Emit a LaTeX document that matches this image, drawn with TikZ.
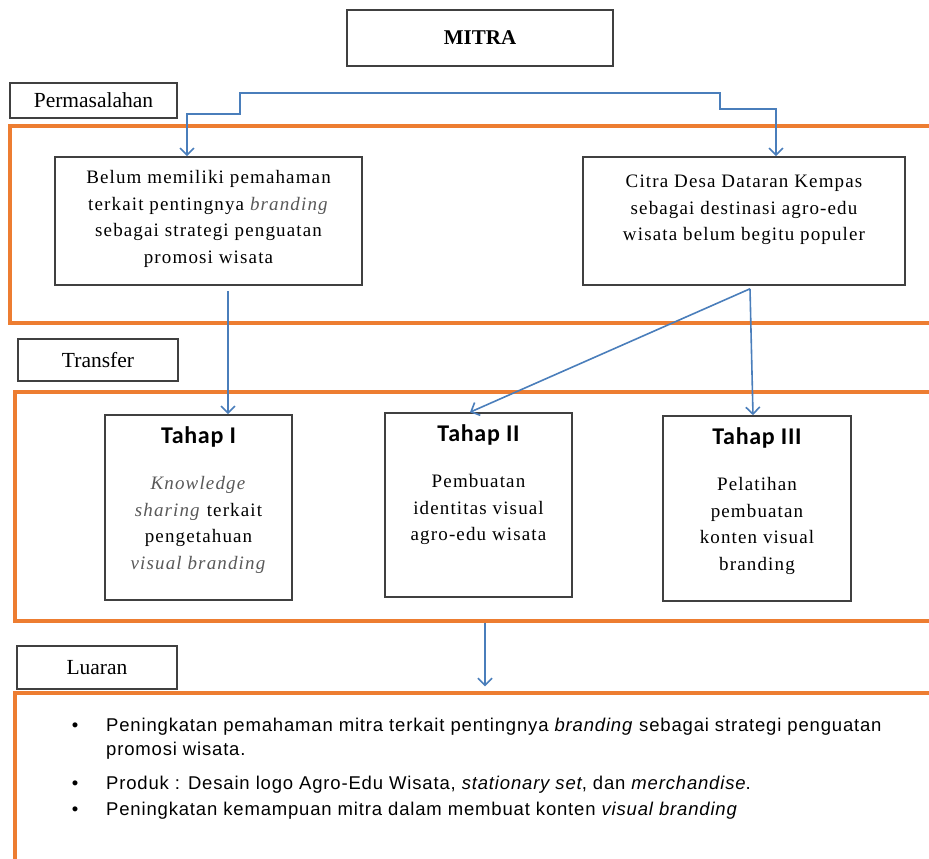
\documentclass[tikz,border=0pt]{standalone}
\usepackage{fontspec}
\setmainfont{Liberation Serif}
\newfontfamily\boxfont[LetterSpace=6]{Liberation Serif}
\newfontfamily\labelfont{Liberation Serif}
\newfontfamily\stagefont[LetterSpace=3]{Carlito}
\newfontfamily\listfont[LetterSpace=4.5]{Liberation Sans}
\usepackage{tikz}
\usetikzlibrary{arrows.meta,positioning}

\definecolor{frameorange}{HTML}{ED7D31}
\definecolor{flowblue}{HTML}{4A7EBB}
\definecolor{boxgray}{HTML}{404040}
\definecolor{itgray}{HTML}{595959}

\newcommand{\itg}[1]{\textcolor{itgray}{\textit{#1}}}

\begin{document}
\begin{tikzpicture}[x=1pt,y=-1pt,
    frame/.style={draw=frameorange,line width=3.4pt,inner sep=0},
    box/.style={draw=boxgray,line width=1.6pt,fill=white,inner sep=0},
    tag/.style={box,font=\labelfont\fontsize{21.5}{24}\selectfont},
    boxtext/.style={font=\boxfont\fontsize{19}{26.5}\selectfont,align=center,inner sep=0},
    heading/.style={font=\stagefont\bfseries\fontsize{24}{28}\selectfont,inner sep=0},
    outitem/.style={font=\listfont\fontsize{18.5}{23}\selectfont,anchor=base west,inner sep=0},
    flow/.style={draw=flowblue,line width=1.6pt,-{Straight Barb[length=7pt,width=14pt]}}]

  \useasboundingbox (0,0) rectangle (929,859);

  % frames
  \node[frame,minimum width=930pt,minimum height=197pt] (f1) at (475,224.5) {};
  \node[frame,minimum width=925pt,minimum height=229pt] (f2) at (477.5,506.5) {};
  \node[frame,minimum width=925pt,minimum height=182pt] (f3) at (477.5,784) {};

  % top and labels
  \node[box,minimum width=266pt,minimum height=56pt,font=\bfseries\fontsize{21}{24}\selectfont] (mitra) at (480,38) {MITRA};
  \node[tag,minimum width=167pt,minimum height=35pt] (perm) at (93.5,100.5) {Permasalahan};
  \node[tag,minimum width=160pt,minimum height=42pt] (trans) at (98,360) {Transfer};
  \node[tag,minimum width=160pt,minimum height=43pt] (luar) at (97,667.5) {Luaran};

  % problems
  \node[box,minimum width=307pt,minimum height=128pt] (p1) at (208.5,221) {};
  \node[boxtext,below=14pt of p1.north] (p1txt) {Belum memiliki pemahaman\\terkait pentingnya \itg{branding}\\sebagai strategi penguatan\\promosi wisata};
  \node[box,minimum width=322pt,minimum height=128pt] (p2) at (744,221) {};
  \node[boxtext,below=19pt of p2.north] (p2txt) {Citra Desa Dataran Kempas\\sebagai destinasi agro-edu\\wisata belum begitu populer};

  % stages
  \node[box,minimum width=187pt,minimum height=185pt] (t1) at (198.5,507.5) {};
  \node[heading,below=12pt of t1.north] (h1) {Tahap I};
  \node[boxtext,below=29pt of h1.south] (b1) {\itg{Knowledge}\\\itg{sharing} terkait\\pengetahuan\\\itg{visual branding}};
  \node[box,minimum width=187pt,minimum height=184pt] (t2) at (478.5,505) {};
  \node[heading,below=12pt of t2.north] (h2) {Tahap II};
  \node[boxtext,below=29pt of h2.south] (b2) {Pembuatan\\identitas visual\\agro-edu wisata};
  \node[box,minimum width=188pt,minimum height=185pt] (t3) at (757,508.5) {};
  \node[heading,below=12pt of t3.north] (h3) {Tahap III};
  \node[boxtext,below=29pt of h3.south] (b3) {Pelatihan\\pembuatan\\konten visual\\branding};

  % outputs
  \foreach \y in {731,789,815}
    \node[outitem,anchor=base] at (75,\y) {\textbullet};
  \node[outitem] (o1) at (106,731) {Peningkatan pemahaman mitra terkait pentingnya \textit{branding} sebagai strategi penguatan};
  \node[outitem] (o1b) at (106,755) {promosi wisata.};
  \node[outitem] (o2) at (106,789) {Produk : Desain logo Agro-Edu Wisata, \textit{stationary set}, dan \textit{merchandise}.};
  \node[outitem] (o3) at (106,815) {Peningkatan kemampuan mitra dalam membuat konten \textit{visual branding}};

  % connectors
  \coordinate (split) at (480,93);
  \coordinate (lbend) at (240,114);
  \coordinate (rbend) at (720,109);
  \coordinate (p1out) at ([xshift=19.5pt,yshift=-5pt]p1.south);
  \coordinate (p2out) at ([xshift=6pt,yshift=-3pt]p2.south);
  \coordinate (f2out) at ([xshift=7.5pt]f2.south);

  \draw[flow] (split) -| (lbend) -| ([xshift=-21.5pt]p1.north);
  \draw[flow] (split) -| (rbend) -| ([xshift=32pt]p2.north);
  \draw[flow] (p1out) -- (p1out |- t1.north);
  \draw[flow] (p2out) -- ([xshift=-8.5pt]t2.north);
  \draw[flow] (p2out) -- ([xshift=-4pt]t3.north);
  \draw[flow,shorten >=5pt] (f2out) -- (f2out |- f3.north);
\end{tikzpicture}
\end{document}
